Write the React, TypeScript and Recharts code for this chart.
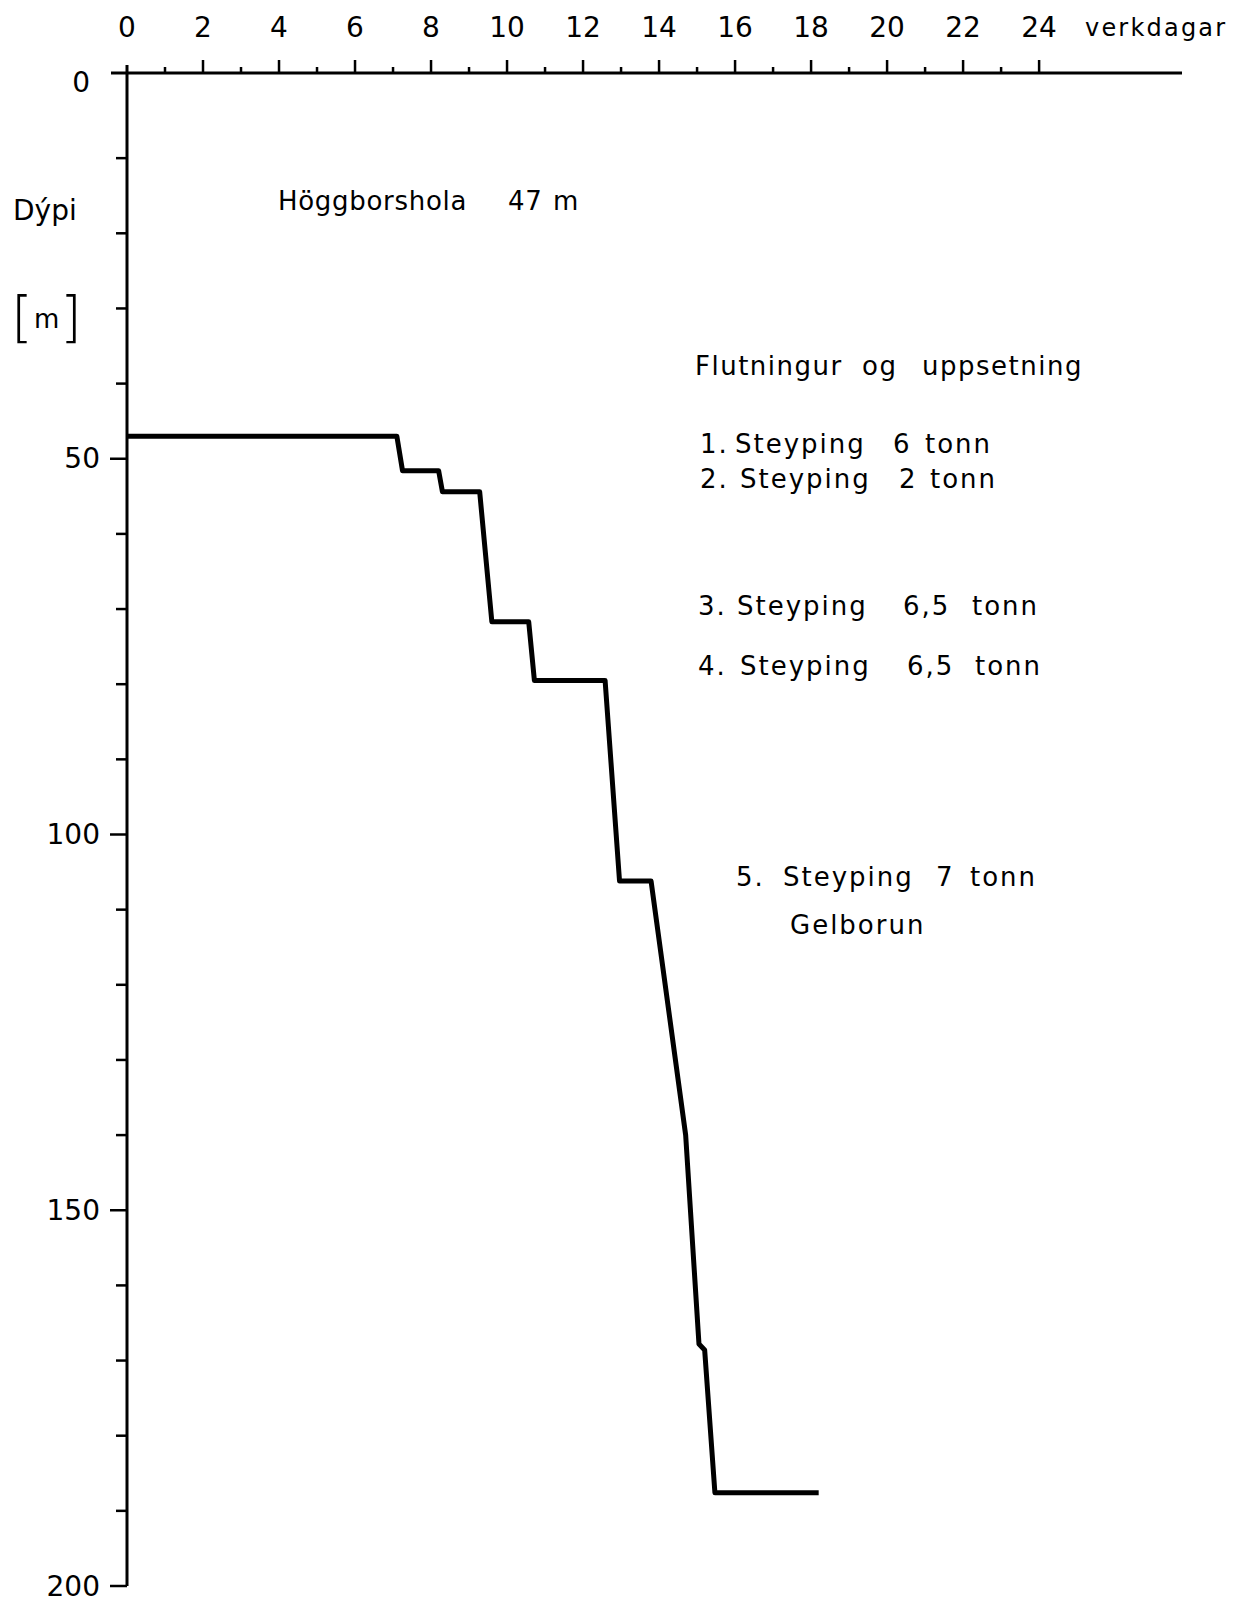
import React from 'react';
import { LineChart, Line, XAxis, YAxis, Customized } from 'recharts';

// verkdagar (x) og dýpi í m (y)
const days = [0, 7.1, 7.25, 8.2, 8.3, 9.28, 9.6, 10.57, 10.72, 12.58, 12.96, 13.79, 14.7, 15.05, 15.2, 15.47, 18.2];
const depths = [47, 47, 51.6, 51.6, 54.4, 54.4, 71.7, 71.7, 79.5, 79.5, 106.2, 106.2, 140, 167.8, 168.6, 187.6, 187.6];

const dayTicks = Array.from({ length: 25 }, (_, i) => i);
const depthTicks = Array.from({ length: 21 }, (_, i) => i * 10);
const depthLabels = [0, 50, 100, 150, 200];

const FONT = '"DejaVu Sans", sans-serif';

const data = days.map((d, i) => ({ day: d, depth: depths[i] }));

const XTick = ({ x, y, payload }: any) => {
  const v = payload.value;
  const major = v % 2 === 0;
  return (
    <g>
      {v === 0 ? (
        <>
          <line x1={x - 16} x2={x} y1={y} y2={y} stroke="#000" strokeWidth={3} />
          <line x1={x} x2={x} y1={y} y2={y - 8} stroke="#000" strokeWidth={3} />
        </>
      ) : (
        <line x1={x} x2={x} y1={y} y2={y - (major ? 13 : 6)} stroke="#000" strokeWidth={2.5} />
      )}
      {major && (
        <text x={x} y={y - 36} textAnchor="middle" fontSize={28} fontFamily={FONT} fill="#000">
          {v}
        </text>
      )}
    </g>
  );
};

const YTick = ({ x, y, payload }: any) => {
  const v = payload.value;
  const major = depthLabels.includes(v);
  return (
    <g>
      {v !== 0 && (
        <line x1={x} x2={x - (major ? 17 : 11)} y1={y} y2={y} stroke="#000" strokeWidth={2.5} />
      )}
      {major && (
        <text x={x - (v === 0 ? 37 : 27)} y={y + 9.5} textAnchor="end" fontSize={28} fontFamily={FONT} fill="#000">
          {v}
        </text>
      )}
    </g>
  );
};

const txt = { fontFamily: FONT, fill: '#000', fontSize: 26 };

const Notes = () => (
  <g>
    <text x={1085} y={36} style={{ ...txt, fontSize: 24, letterSpacing: 2.2 }}>verkdagar</text>
    <text x={13} y={220} style={{ ...txt, fontSize: 28 }}>Dýpi</text>
    <text style={txt}>
      <tspan x={11} y={336} fontSize={56} fontWeight={200}>[</tspan>
      <tspan x={34} y={328} fontSize={26}>m</tspan>
      <tspan x={60} y={336} fontSize={56} fontWeight={200}>]</tspan>
    </text>
    <text y={210} style={{ ...txt, letterSpacing: 0.7 }}>
      <tspan x={278}>Höggborshola</tspan>
      <tspan x={508}>47</tspan>
      <tspan x={553}>m</tspan>
    </text>
    <text y={375} style={{ ...txt, letterSpacing: 1.5 }}>
      <tspan x={695}>Flutningur</tspan>
      <tspan x={862}>og</tspan>
      <tspan x={922}>uppsetning</tspan>
    </text>
    <text y={453} style={{ ...txt, letterSpacing: 2 }}>
      <tspan x={700}>1.</tspan>
      <tspan x={735}>Steyping</tspan>
      <tspan x={893}>6</tspan>
      <tspan x={925}>tonn</tspan>
    </text>
    <text y={488} style={{ ...txt, letterSpacing: 2 }}>
      <tspan x={700}>2.</tspan>
      <tspan x={740}>Steyping</tspan>
      <tspan x={899}>2</tspan>
      <tspan x={930}>tonn</tspan>
    </text>
    <text y={615} style={{ ...txt, letterSpacing: 2 }}>
      <tspan x={698}>3.</tspan>
      <tspan x={737}>Steyping</tspan>
      <tspan x={903}>6,5</tspan>
      <tspan x={972}>tonn</tspan>
    </text>
    <text y={675} style={{ ...txt, letterSpacing: 2 }}>
      <tspan x={698}>4.</tspan>
      <tspan x={740}>Steyping</tspan>
      <tspan x={907}>6,5</tspan>
      <tspan x={975}>tonn</tspan>
    </text>
    <text y={886} style={{ ...txt, letterSpacing: 2 }}>
      <tspan x={736}>5.</tspan>
      <tspan x={783}>Steyping</tspan>
      <tspan x={936}>7</tspan>
      <tspan x={970}>tonn</tspan>
    </text>
    <text x={790} y={934} style={{ ...txt, letterSpacing: 2 }}>Gelborun</text>
  </g>
);

export default function App() {
  return (
    <div style={{ position: 'absolute', left: 0, top: 0, width: 1245, height: 1603, background: '#fff' }}>
      <LineChart width={1245} height={1603} data={data} margin={{ top: 0, right: 63, bottom: 17, left: 0 }}>
        <XAxis
          type="number"
          dataKey="day"
          orientation="top"
          domain={[0, 27.76]}
          ticks={dayTicks}
          interval={0}
          height={73}
          tickSize={0}
          tickMargin={0}
          tickLine={false}
          axisLine={{ stroke: '#000', strokeWidth: 3 }}
          tick={<XTick />}
        />
        <YAxis
          type="number"
          domain={[-1.33, 200]}
          reversed
          ticks={depthTicks}
          interval={0}
          width={127}
          tickSize={0}
          tickMargin={0}
          tickLine={false}
          axisLine={{ stroke: '#000', strokeWidth: 3 }}
          tick={<YTick />}
        />
        <Line
          type="linear"
          dataKey="depth"
          stroke="#000"
          strokeWidth={5}
          strokeLinejoin="round"
          dot={false}
          activeDot={false}
          isAnimationActive={false}
        />
        <Customized component={Notes} />
      </LineChart>
    </div>
  );
}
